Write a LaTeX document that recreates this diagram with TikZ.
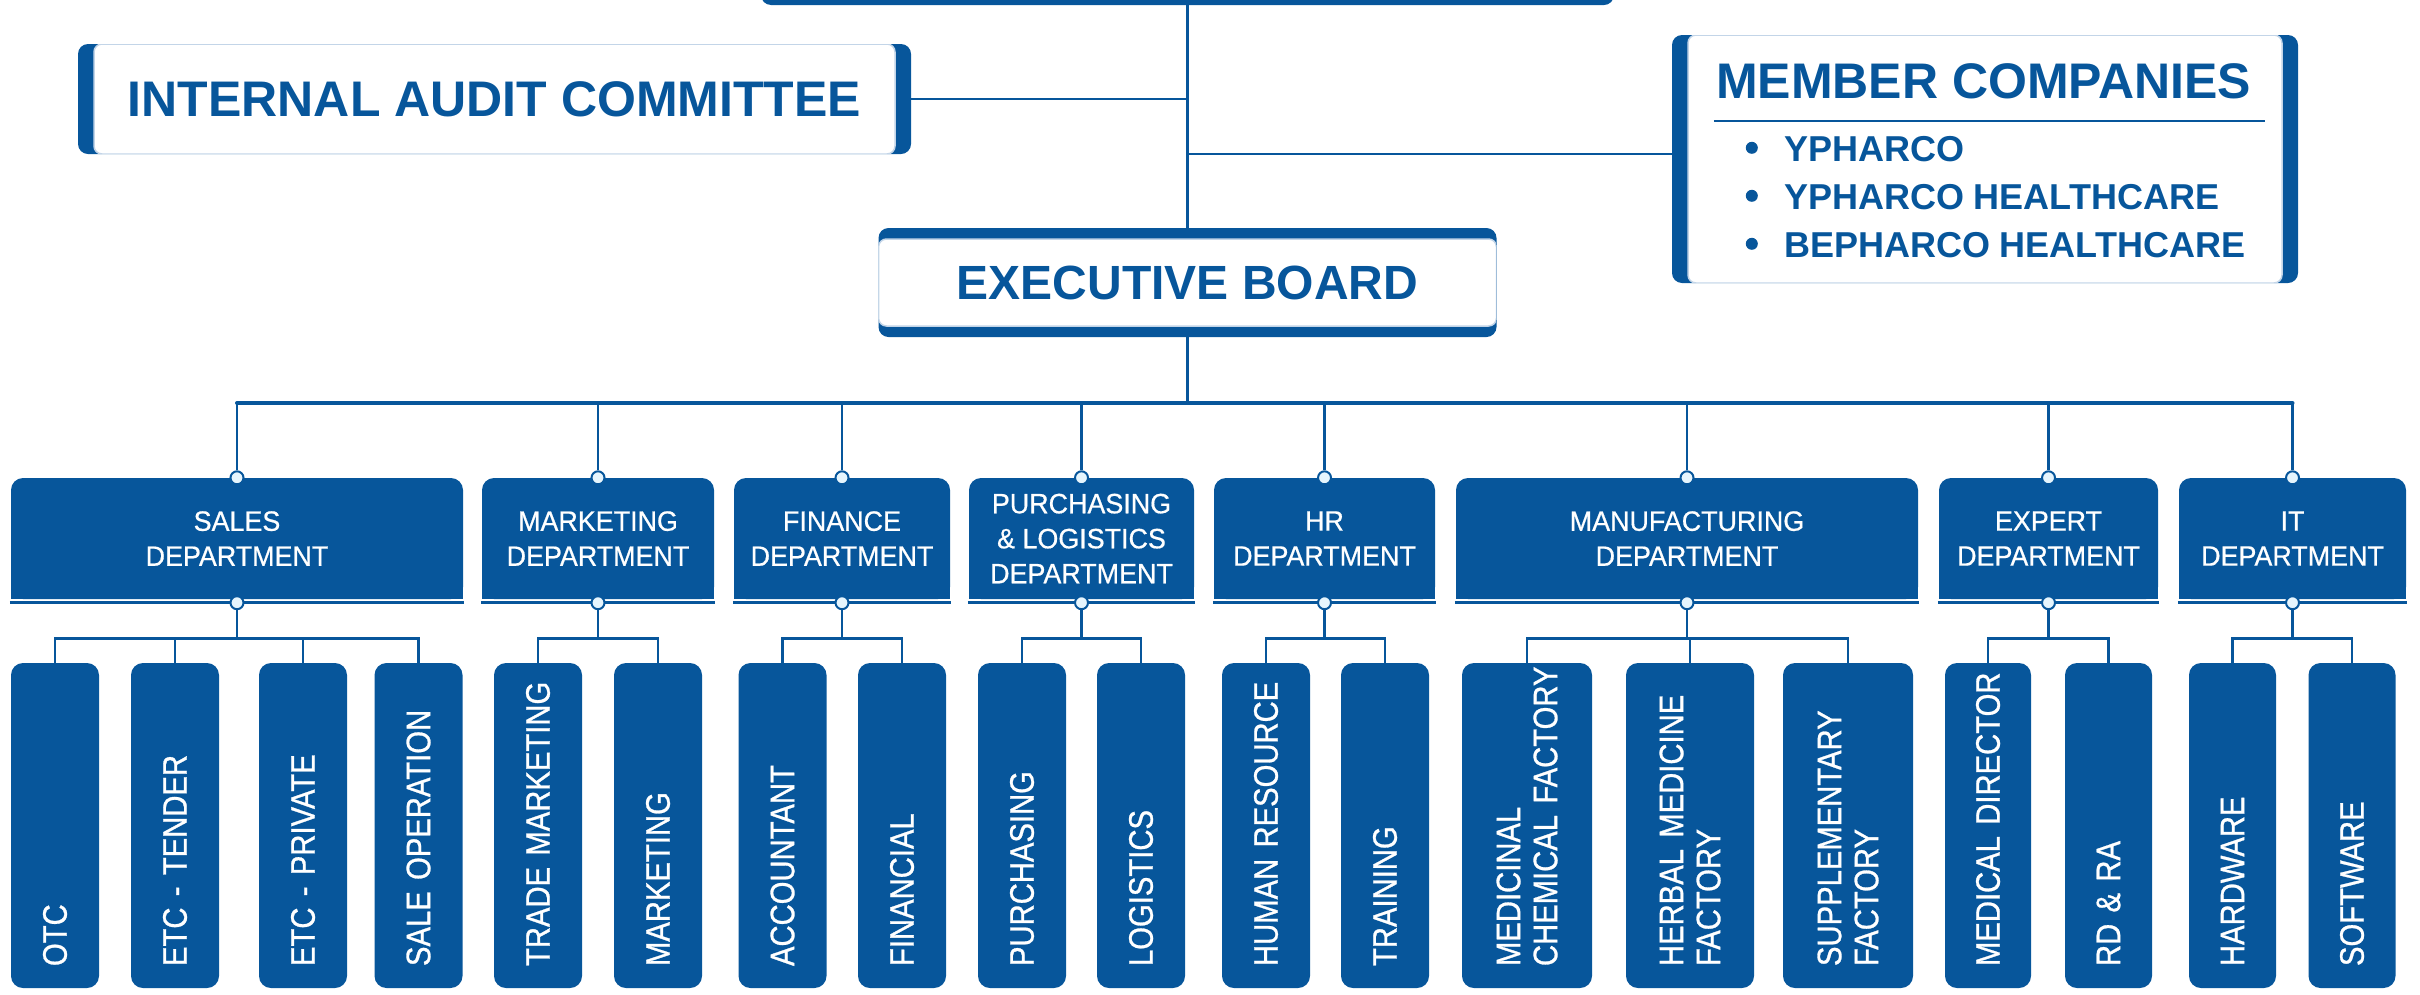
\documentclass[tikz,border=0pt]{standalone}
\usepackage{fontspec}
\setmainfont{Liberation Sans}
\newfontfamily\deptfont[FakeStretch=0.96,FakeBold=0.6]{Liberation Sans}
\newfontfamily\leaffont[FakeStretch=0.86,FakeBold=0.8]{Liberation Sans}
\usetikzlibrary{calc}
\definecolor{orgblue}{HTML}{07569B}
\definecolor{edgeblue}{HTML}{C3D5E8}
\definecolor{jointfill}{HTML}{E6F5FD}

\begin{document}
\begin{tikzpicture}[x=1pt,y=-1pt]
	\path [use as bounding box] (0,0) rectangle (2420,994);
	\tikzstyle{boardbox} = [fill=orgblue, rounded corners=10pt, minimum height=109pt, inner sep=0pt, text=orgblue,
		font=\fontsize{48}{58}\selectfont\bfseries,
		path picture={\fill[white, draw=edgeblue, line width=1.5pt, rounded corners=8pt]
			($(path picture bounding box.south west)+(0,-11)$) rectangle ($(path picture bounding box.north east)+(0,11)$);}]
	\tikzstyle{sidebox} = [fill=orgblue, rounded corners=10pt, inner sep=0pt, text=orgblue,
		font=\fontsize{50}{60}\selectfont\bfseries,
		path picture={\fill[white, draw=edgeblue, line width=1.5pt, rounded corners=8pt]
			($(path picture bounding box.south west)+(16,0)$) rectangle ($(path picture bounding box.north east)+(-16,0)$);}]
	\tikzstyle{deptbox} = [fill=orgblue, rounded corners=12pt, minimum height=121pt, inner sep=0pt, text=white,
		align=center, font=\deptfont\fontsize{28}{35}\selectfont]
	\tikzstyle{leafbox} = [fill=orgblue, rounded corners=12pt, rotate=90, minimum width=325pt, inner xsep=0pt, inner ysep=0pt,
		text width=325pt, align=left, execute at begin node={\leftskip=22pt}, text=white,
		font=\leaffont\fontsize{34}{37}\selectfont]
	\tikzstyle{joint} = [circle, fill=jointfill, draw=orgblue, line width=2pt, minimum size=13pt, inner sep=0pt]
	\tikzstyle{trunk} = [orgblue, line width=3.5pt]
	\tikzstyle{link} = [orgblue, line width=2.5pt]
	\tikzstyle{busline} = [orgblue, line width=4pt, line cap=round]
	\tikzstyle{twig} = [orgblue, line width=2.5pt]

	% top level
	\node[boardbox, minimum width=853pt] (top) at (1187.5,-49.5) {};
	\node[boardbox, minimum width=618pt] (exec) at (1187.5,282.5) {EXECUTIVE BOARD};
	\node[sidebox, minimum width=833pt, minimum height=110pt] (audit) at (494.5,99) {INTERNAL AUDIT COMMITTEE};
	\node[sidebox, minimum width=626pt, minimum height=248pt] (member) at (1985,159) {};
	\node[anchor=base west, inner sep=0pt, text=orgblue, font=\fontsize{50}{60}\selectfont\bfseries] (memtitle)
		at ($(member.north west)+(44,64)$) {MEMBER COMPANIES};
	\draw[orgblue, line width=2.5pt] ($(member.north west)+(42,86)$) -- ($(member.north east)+(-33,86)$);
	\foreach \co [count=\i] in {YPHARCO, YPHARCO HEALTHCARE, BEPHARCO HEALTHCARE} {
		\fill[orgblue] ($(member.north west)+(80,{65+48*\i})$) circle (6pt);
		\node[anchor=base west, inner sep=0pt, text=orgblue, font=\fontsize{36}{44}\selectfont\bfseries] (co\i)
			at ($(member.north west)+(112,{79+48*\i})$) {\co};
	}

	\coordinate (bus) at (1187.5,403);
	\coordinate (memlink) at ($(member.west)+(0,-5)$);
	\draw[trunk] (top.south) -- (exec.north);
	\draw[trunk] (exec.south) -- (bus);
	\draw[link] (audit.east) -- (audit.east -| top.south);
	\draw[link] (memlink -| top.south) -- (memlink);

	% departments
	\foreach \nm/\cx/\w/\txt in {sales/237/452/{SALES\\DEPARTMENT}, mkt/598/232/{MARKETING\\DEPARTMENT},
		fin/842/216/{FINANCE\\DEPARTMENT}, pur/1081.5/225/{PURCHASING\\\& LOGISTICS\\DEPARTMENT},
		hr/1324.5/221/{HR\\DEPARTMENT}, mfg/1687/462/{MANUFACTURING\\DEPARTMENT},
		exp/2048.5/219/{EXPERT\\DEPARTMENT}, it/2292.5/227/{IT\\DEPARTMENT}} {
		\node[deptbox, minimum width=\w pt] (\nm) at (\cx,538.5) {\txt};
		\fill[orgblue] ($(\nm.south west)+(0,-14)$) rectangle (\nm.south east);
		\draw[orgblue, line width=3pt] ($(\nm.south west)+(-1,3.5)$) -- ($(\nm.south east)+(1,3.5)$);
		\node[joint] (\nm-t) at (\nm.north) {};
		\node[joint] (\nm-u) at ($(\nm.south)+(0,3.5)$) {};
		\draw[twig] (\nm-t |- bus) -- (\nm-t);
	}
	\draw[busline] (sales-t |- bus) -- (it-t |- bus);

	% sections
	\foreach \dn/\cx/\w/\txt [count=\i] in {sales/55/88/OTC, sales/175/88/ETC - TENDER, sales/303/88/ETC - PRIVATE,
		sales/418.5/88/SALE OPERATION, mkt/538/88/TRADE MARKETING, mkt/658/88/MARKETING,
		fin/782.5/88/ACCOUNTANT, fin/902/88/FINANCIAL, pur/1022/88/PURCHASING, pur/1141/88/LOGISTICS,
		hr/1266/88/HUMAN RESOURCE, hr/1385/88/TRAINING, mfg/1527/130/{MEDICINAL\\CHEMICAL FACTORY},
		mfg/1690/128/{HERBAL MEDICINE\\FACTORY}, mfg/1848/130/{SUPPLEMENTARY\\FACTORY},
		exp/1988/86/MEDICAL DIRECTOR, exp/2108.5/87/RD \& RA, it/2232.5/87/HARDWARE, it/2352/87/SOFTWARE} {
		\node[leafbox, minimum height=\w pt] (lf\i) at (\cx,825.5) {\txt};
		\draw[twig] (\dn-u) -- ++(0,36) -| (lf\i.east);
	}
\end{tikzpicture}
\end{document}
